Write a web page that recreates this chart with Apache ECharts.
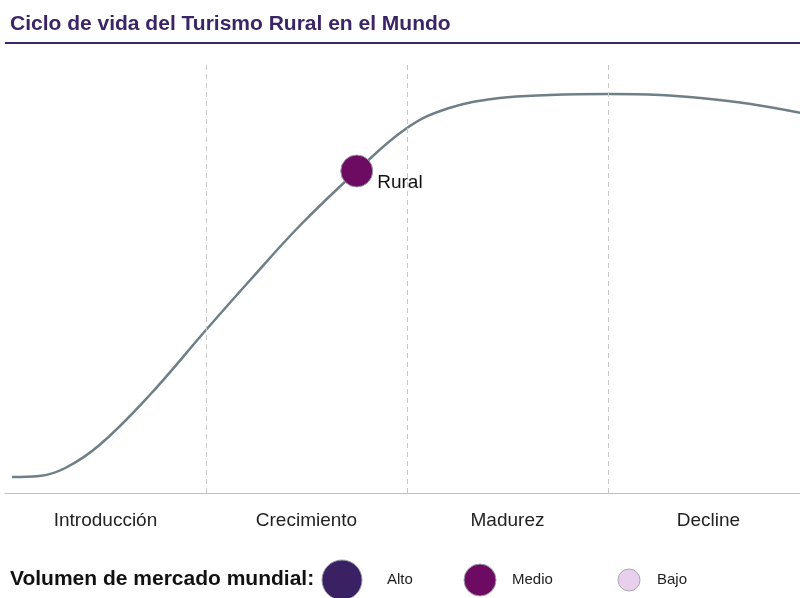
<!DOCTYPE html>
<html>
<head>
<meta charset="utf-8">
<script src="https://cdn.jsdelivr.net/npm/echarts@6/dist/echarts.min.js"></script>
<style>
  html, body { margin: 0; padding: 0; background: #fff; }
  #chart { width: 800px; height: 598px; }
</style>
</head>
<body>
<div id="chart"></div>
<script>
// etapas del ciclo de vida
const stages = ['Introducción', 'Crecimiento', 'Madurez', 'Decline'];
// curva (x en etapas, y en unidades relativas)
const curveX = [0.035, 0.17, 0.30, 0.47, 0.72, 1.0, 1.22, 1.47, 1.75, 2.0, 2.21, 2.46, 2.71, 3.0, 3.26, 3.46, 3.71, 3.96];
const curveY = [16, 17, 25, 48, 98, 163, 213, 268, 322, 365, 385, 395, 398, 399, 398, 395, 389, 380];
// posición del turismo rural
const ruralPoint = [1.75, 322];
const ruralName = 'Rural';
// leyenda de volumen
const volumeLabels = ['Alto', 'Medio', 'Bajo'];
const volumeColors = ['#3a2163', '#6d0a62', '#e8d0ec'];

const font = '"Liberation Sans", Arial, sans-serif';
let myChart = echarts.init(document.getElementById('chart'));

let curveData = curveX.map((x, i) => [x, curveY[i]]);

// el gráfico llega hasta 800px; la última etapa queda algo recortada
const xMax = 795 / 201;

myChart.setOption({
    animation: false,
    textStyle: { fontFamily: font },
    grid: { left: 5, right: 0, top: 62, bottom: 105 },
    xAxis: {
        type: 'value',
        min: 0,
        max: xMax,
        interval: 0.5,
        axisLine: { show: true, lineStyle: { color: '#bfbfbf', width: 1 } },
        axisTick: { show: false },
        splitLine: { show: false },
        axisLabel: {
            color: '#222', fontSize: 19, margin: 18, fontFamily: font,
            showMinLabel: false, showMaxLabel: false,
            formatter: (v) => {
                let i = v - 0.5;
                return Number.isInteger(i) && stages[i] ? stages[i] : '';
            }
        }
    },
    yAxis: { type: 'value', min: 0, max: 431, show: false },
    graphic: [
        {
            type: 'text', left: 10, top: 14,
            style: { text: 'Ciclo de vida del Turismo Rural en el Mundo', fill: '#3b2566', font: 'bold 21px ' + font }
        },
        {
            type: 'line', shape: { x1: 5, y1: 43, x2: 800, y2: 43 },
            style: { stroke: '#3b2566', lineWidth: 2 }
        },
        {
            type: 'text', left: 10, top: 569,
            style: { text: 'Volumen de mercado mundial:', fill: '#111', font: 'bold 21px ' + font }
        },
        { type: 'circle', shape: { cx: 342, cy: 580, r: 20 }, style: { fill: volumeColors[0], stroke: '#9a9aa8', lineWidth: 1 } },
        { type: 'text', left: 387, top: 572, style: { text: volumeLabels[0], fill: '#222', font: '15px ' + font } },
        { type: 'circle', shape: { cx: 480, cy: 580, r: 16 }, style: { fill: volumeColors[1], stroke: '#9a9aa8', lineWidth: 1 } },
        { type: 'text', left: 512, top: 572, style: { text: volumeLabels[1], fill: '#222', font: '15px ' + font } },
        { type: 'circle', shape: { cx: 629, cy: 580, r: 11 }, style: { fill: volumeColors[2], stroke: '#a9a9b4', lineWidth: 1 } },
        { type: 'text', left: 657, top: 572, style: { text: volumeLabels[2], fill: '#222', font: '15px ' + font } }
    ],
    series: [
        {
            type: 'line',
            data: curveData,
            smooth: 0.4,
            showSymbol: false,
            lineStyle: { color: '#6e7f86', width: 2.5 },
            markLine: {
                silent: true,
                symbol: 'none',
                label: { show: false },
                lineStyle: { color: '#c8c8c8', type: [5, 4], width: 1 },
                data: [{ xAxis: 1 }, { xAxis: 2 }, { xAxis: 3 }]
            }
        },
        {
            type: 'scatter',
            data: [ruralPoint],
            symbolSize: 32,
            itemStyle: { color: volumeColors[1], opacity: 1, borderColor: '#9a9aa8', borderWidth: 1 },
            label: {
                show: true,
                formatter: ruralName,
                position: 'right',
                offset: [-1, 12],
                color: '#111',
                fontSize: 19,
                fontFamily: font
            },
            z: 5
        }
    ]
});
</script>
</body>
</html>
